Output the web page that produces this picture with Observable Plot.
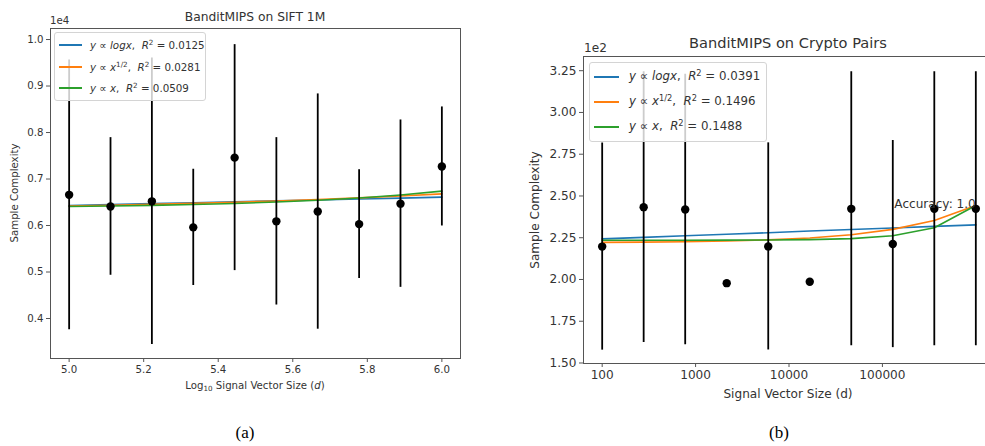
<!DOCTYPE html>
<html>
<head>
<meta charset="utf-8">
<script src="https://cdn.jsdelivr.net/npm/d3@7"></script>
<script src="https://cdn.jsdelivr.net/npm/@observablehq/plot@0.6"></script>
<style>
  body { margin: 0; width: 985px; height: 446px; overflow: hidden; background: #fff; position: relative;
         font-family: "DejaVu Sans", sans-serif; color: #333; }
  .panel { position: absolute; top: 0; }
  .panel svg { max-width: none !important; }
  .txt { position: absolute; white-space: nowrap; transform: translate(-50%, -50%); line-height: 1; }
  .left { transform: translate(0, -50%); }
  .rot { transform: translate(-50%, -50%) rotate(-90deg); }
  .legend { position: absolute; box-sizing: border-box; background: rgba(255,255,255,0.8);
            border: 1px solid #d4d4d4; border-radius: 3px; }
  .row { position: absolute; white-space: nowrap; line-height: 1; }
  .swatch { position: absolute; height: 1.6px; }
  .lab { position: absolute; transform: translateY(-50%); }
  .lab sup { font-size: 70%; vertical-align: 0; position: relative; top: -0.5em; }
  sub { font-size: 70%; vertical-align: 0; position: relative; top: 0.3em; }
  .caption { position: absolute; font-family: "Liberation Serif", serif; font-size: 17px; color: #000;
             transform: translate(-50%, -50%); line-height: 1; }
</style>
</head>
<body>
<script>
// Panel (a): BanditMIPS on SIFT 1M, x is log10 of the signal vector size
const sizeA = [5.0, 5.111, 5.222, 5.333, 5.444, 5.556, 5.667, 5.778, 5.889, 6.0];
const meanA = [6660, 6410, 6520, 5960, 7460, 6090, 6300, 6030, 6470, 7270];
const errA  = [2900, 1480, 3080, 1250, 2430, 1800, 2530, 1170, 1800, 1280];
const fitLogA  = [6430, 6450, 6470, 6490, 6510, 6530, 6550, 6570, 6590, 6610];
const fitSqrtA = [6420, 6436, 6455, 6476, 6500, 6528, 6559, 6594, 6634, 6680];
const fitLinA  = [6410, 6420, 6434, 6452, 6475, 6505, 6544, 6593, 6657, 6740];
const r2A = ["0.0125", "0.0281", "0.0509"];
const xTicksA = [5.0, 5.2, 5.4, 5.6, 5.8, 6.0];
const yTicksA = [4000, 5000, 6000, 7000, 8000, 9000, 10000];

// Panel (b): BanditMIPS on Crypto Pairs, signal vector size on a log axis
const sizeB = [100, 278, 774, 2154, 5995, 16681, 46416, 129155, 359381, 1000000];
const meanB = [219.7, 243.3, 241.9, 197.8, 219.8, 198.6, 242.3, 221.2, 242.3, 242.3];
const errB  = [62, 81, 81, null, 62, null, 82, 62, 82, 82];
const fitLogB  = [224.3, 225.2, 226.2, 227.1, 228.0, 229.0, 229.9, 230.8, 231.8, 232.7];
const fitSqrtB = [222.2, 222.35, 222.6, 223.0, 223.7, 224.8, 226.8, 230.0, 235.3, 244.3];
const fitLinB  = [223.5, 223.5, 223.5, 223.54, 223.62, 223.85, 224.47, 226.2, 231.0, 244.3];
const r2B = ["0.0391", "0.1496", "0.1488"];
const xTicksB = [100, 1000, 10000, 100000];
const yTicksB = [150, 175, 200, 225, 250, 275, 300, 325];
const noteB = [{d: 1000000, v: 242.3, text: "Accuracy: 1.0"}];

const fitColors = ["#1f77b4", "#ff7f0e", "#2ca02c"];
const fitLabels = [
  "<i>y</i> ∝ <i>logx</i>,&nbsp; <i>R</i><sup>2</sup> = ",
  "<i>y</i> ∝ <i>x</i><sup>1/2</sup>,&nbsp; <i>R</i><sup>2</sup> = ",
  "<i>y</i> ∝ <i>x</i>,&nbsp; <i>R</i><sup>2</sup> = "
];

function rows(xs, ys) { return xs.map((x, i) => ({x, y: ys[i]})); }

function panel({left, width, height, margins, x, y, xTicks, xFormat, yTicks, yFormat, sizes, means, errs, fits, fontSize, notes}) {
  const pts = sizes.map((s, i) => ({x: s, y: means[i], e: errs[i]}));
  const bars = pts.filter(p => p.e != null);
  const marks = [
    ...fits.map((f, i) => Plot.line(rows(sizes, f), {x: "x", y: "y", stroke: fitColors[i], strokeWidth: 1.6})),
    Plot.ruleX(bars, {x: "x", y1: d => d.y - d.e, y2: d => d.y + d.e, stroke: "#000", strokeWidth: 1.8}),
    Plot.dot(pts, {x: "x", y: "y", r: 4.2, fill: "#000", stroke: null}),
    Plot.frame({stroke: "#555", strokeWidth: 1}),
    Plot.axisX({ticks: xTicks, tickFormat: xFormat, tickSize: 4, tickPadding: 3, label: null, stroke: "#555"}),
    Plot.axisY({ticks: yTicks, tickFormat: yFormat, tickSize: 4, tickPadding: 3, label: null, stroke: "#555"})
  ];
  if (notes) marks.push(Plot.text(notes, {x: "d", y: "v", text: "text", textAnchor: "end", lineAnchor: "bottom",
                                          dy: -1, fill: "#333", fontSize}));
  const svg = Plot.plot({
    width, height,
    marginLeft: margins[0], marginRight: margins[1], marginTop: margins[2], marginBottom: margins[3],
    x, y,
    style: {fontFamily: "DejaVu Sans, sans-serif", fontSize: fontSize + "px", color: "#333",
            background: "transparent", overflow: "visible", maxWidth: "none"},
    marks
  });
  const div = document.createElement("div");
  div.className = "panel";
  div.style.left = left + "px";
  div.style.width = width + "px";
  div.appendChild(svg);
  document.body.appendChild(div);
}

panel({
  left: 0, width: 480, height: 400, margins: [50, 20, 28, 42],
  x: {domain: [4.95, 6.05]}, y: {domain: [3140, 10237]},
  xTicks: xTicksA, xFormat: d => d.toFixed(1),
  yTicks: yTicksA, yFormat: d => (d / 1e4).toFixed(1),
  sizes: sizeA, means: meanA, errs: errA, fits: [fitLogA, fitSqrtA, fitLinA], fontSize: 10.2
});

panel({
  left: 480, width: 520, height: 400, margins: [103, 6, 56, 37],
  x: {type: "log", domain: [Math.pow(10, 1.8), Math.pow(10, 6.2)]}, y: {domain: [149.7, 333.5]},
  xTicks: xTicksB, xFormat: d => String(d),
  yTicks: yTicksB, yFormat: d => (d / 100).toFixed(2),
  sizes: sizeB, means: meanB, errs: errB, fits: [fitLogB, fitSqrtB, fitLinB], fontSize: 12.1, notes: noteB
});

function text(html, x, y, size, cls = "txt") {
  const el = document.createElement("div");
  el.className = cls;
  el.style.left = x + "px"; el.style.top = y + "px"; el.style.fontSize = size + "px";
  el.innerHTML = html;
  document.body.appendChild(el);
  return el;
}

function legend(x, y, w, h, rowYs, lineX, lineLen, textX, size, r2) {
  const box = document.createElement("div");
  box.className = "legend";
  Object.assign(box.style, {left: x + "px", top: y + "px", width: w + "px", height: h + "px"});
  fitLabels.forEach((lab, i) => {
    const sw = document.createElement("div");
    sw.className = "swatch";
    Object.assign(sw.style, {left: lineX + "px", top: (rowYs[i] - 1) + "px", width: lineLen + "px", background: fitColors[i]});
    box.appendChild(sw);
    const t = document.createElement("div");
    t.className = "row lab";
    Object.assign(t.style, {left: textX + "px", top: rowYs[i] + "px", fontSize: size + "px"});
    t.innerHTML = lab + r2[i];
    box.appendChild(t);
  });
  document.body.appendChild(box);
}

// panel (a) text
text("BanditMIPS on SIFT 1M", 255, 17, 12.3);
text("1e4", 50, 21, 10.2, "txt left");
text("Sample Complexity", 15, 193, 10.2, "txt rot");
text("Log<sub>10</sub> Signal Vector Size (<i>d</i>)", 255, 386, 10.2);
legend(54, 32, 152, 69, [12, 34, 55], 4, 23, 35, 10.3, r2A);

// panel (b) text
text("BanditMIPS on Crypto Pairs", 788, 43, 14.6);
text("1e2", 584, 48, 12.1, "txt left");
text("Sample Complexity", 535, 210, 12.1, "txt rot");
text("Signal Vector Size (d)", 788, 394, 12.1);
legend(589, 62, 178, 80, [14, 39, 64], 4, 25, 39, 11.8, r2B);

// sub-figure captions
text("(a)", 245, 432, 17, "caption");
text("(b)", 779, 432, 17, "caption");
</script>
</body>
</html>
